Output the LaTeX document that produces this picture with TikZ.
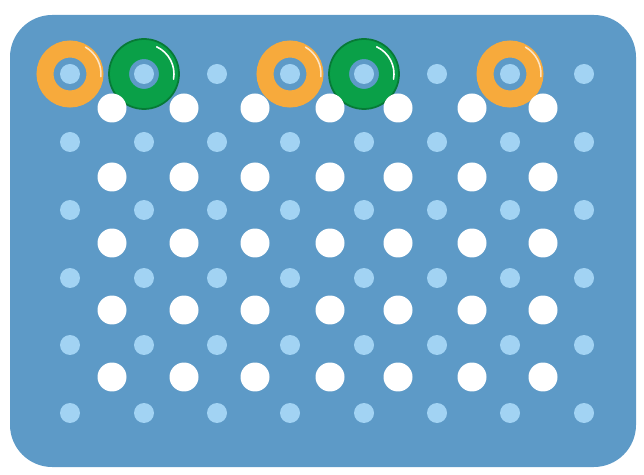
\documentclass[tikz,border=0pt]{standalone}
\usepackage{xcolor}
\usepackage{tikz}
\usetikzlibrary{positioning, calc}

\definecolor{plateblue}{HTML}{5D9AC7}
\definecolor{holeblue}{HTML}{A2D3F3}
\definecolor{ringorange}{HTML}{F7AA3C}
\definecolor{ringgreen}{HTML}{0AA048}
\definecolor{ringgreendark}{HTML}{067A36}

\begin{document}
\begin{tikzpicture}[x=0.02cm, y=-0.02cm]
        \tikzstyle{hole} = [circle, fill=holeblue, inner sep=0pt, minimum size=0.4cm]
        \tikzstyle{bead} = [circle, fill=white, inner sep=0pt, minimum size=0.58cm]
        \tikzstyle{orangering} = [circle, draw=ringorange, line width=0.34cm, inner sep=0pt, minimum size=1.0cm]
        \tikzstyle{greenring} = [circle, draw=ringgreen, line width=0.4cm, inner sep=0pt, minimum size=1.0cm]
        \tikzstyle{shine} = [white, line width=0.9pt, line cap=round]

        \useasboundingbox (0,0) rectangle (644,475);

        % plate
        \fill [plateblue, rounded corners=24] (10,15) rectangle (636,467);

        % light blue holes, 8 x 6
        \foreach \col [count=\i] in {70,144,217,290,364,437,510,584} {
            \foreach \row [count=\j] in {74,142,210,278,345,413} {
                \node (h\i\j) [hole] at (\col,\row) {};
            }
        }

        % rings on the top row
        \foreach \i in {1,4,7} {
            \node (o\i) [orangering] at (h\i1) {};
            \draw [shine, white!70!ringorange] ($(o\i)+(60:0.62cm)$) arc (60:-5:0.62cm);
        }
        \foreach \i in {2,5} {
            \node (g\i) [greenring] at (h\i1) {};
            \draw [ringgreendark, line width=1pt] (g\i) circle (0.7cm);
            \draw [shine] ($(g\i)+(65:0.6cm)$) arc (65:-10:0.6cm);
        }

        % white beads, 7 x 5
        \foreach \col [count=\i] in {112,184,255,330,398,472,543} {
            \foreach \row [count=\j] in {108,177,243,310,377} {
                \node (b\i\j) [bead] at (\col,\row) {};
            }
        }
    \end{tikzpicture}
\end{document}
